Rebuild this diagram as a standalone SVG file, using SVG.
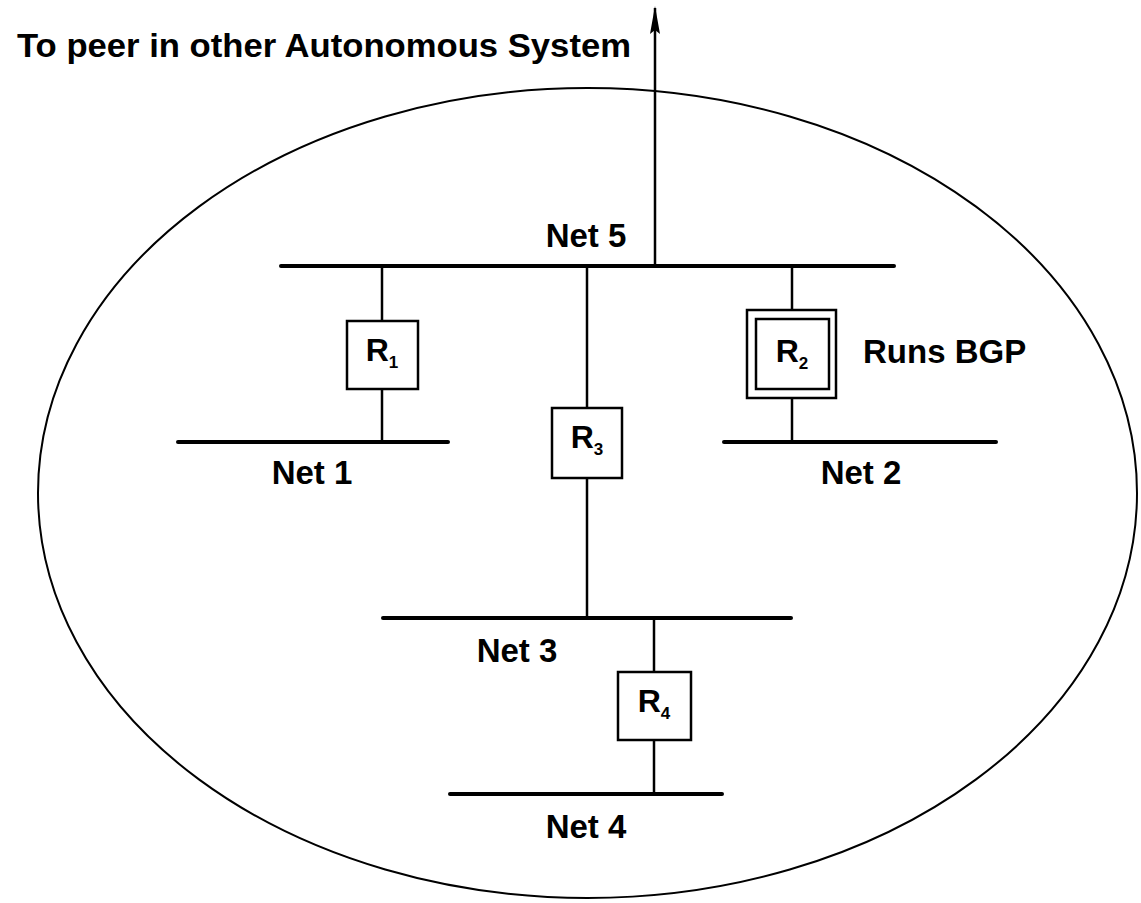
<svg xmlns="http://www.w3.org/2000/svg" width="1141" height="903" viewBox="0 0 1141 903">
  <style>
    .bus { stroke: #000; stroke-width: 4; stroke-linecap: round; }
    .link { stroke: #000; stroke-width: 2.5; fill: none; }
    .box { fill: #fff; stroke: #000; stroke-width: 2.5; }
    .lbl { font-family: "Liberation Sans", Arial, sans-serif; font-weight: bold; font-size: 33px; fill: #000; }
    .rt { font-family: "Liberation Sans", Arial, sans-serif; font-weight: bold; font-size: 32px; fill: #000; text-anchor: middle; }
    .sub { font-size: 17px; }
  </style>
  <defs>
    <marker id="arrowhead" viewBox="0 0 28 12" refX="26" refY="6" markerWidth="28" markerHeight="12" markerUnits="userSpaceOnUse" orient="auto">
      <path d="M28 6 L0 1 L4 6 L0 11 Z" fill="#000"/>
    </marker>
  </defs>
  <rect width="1141" height="903" fill="#fff"/>

  <!-- autonomous system boundary -->
  <g id="as-boundary">
    <ellipse cx="587.5" cy="493" rx="549.5" ry="405" fill="none" stroke="#000" stroke-width="2"/>
  </g>

  <g id="title">
    <text class="lbl" x="17" y="57" font-size="32" textLength="614" lengthAdjust="spacingAndGlyphs">To peer in other Autonomous System</text>
  </g>

  <!-- links between routers and networks -->
  <g id="connectors">
    <line class="link" x1="655" y1="266" x2="655" y2="8" marker-end="url(#arrowhead)"/>
    <line class="link" x1="382" y1="267" x2="382" y2="321"/>
    <line class="link" x1="382" y1="389" x2="382" y2="443"/>
    <line class="link" x1="792" y1="266" x2="792" y2="310"/>
    <line class="link" x1="792" y1="398" x2="792" y2="442"/>
    <line class="link" x1="587" y1="267" x2="587" y2="408"/>
    <line class="link" x1="587" y1="478" x2="587" y2="618"/>
    <line class="link" x1="654" y1="618" x2="654" y2="672"/>
    <line class="link" x1="654" y1="740" x2="654" y2="794"/>
  </g>

  <!-- networks -->
  <g id="net5">
    <line class="bus" x1="281" y1="266" x2="894" y2="266"/>
    <text class="lbl" x="586" y="247" text-anchor="middle">Net 5</text>
  </g>
  <g id="net1">
    <line class="bus" x1="178" y1="442" x2="448" y2="442"/>
    <text class="lbl" x="312" y="484" text-anchor="middle">Net 1</text>
  </g>
  <g id="net2">
    <line class="bus" x1="724" y1="442" x2="996" y2="442"/>
    <text class="lbl" x="861" y="484" text-anchor="middle">Net 2</text>
  </g>
  <g id="net3">
    <line class="bus" x1="383" y1="618" x2="791" y2="618"/>
    <text class="lbl" x="517" y="662" text-anchor="middle">Net 3</text>
  </g>
  <g id="net4">
    <line class="bus" x1="450" y1="794" x2="722" y2="794"/>
    <text class="lbl" x="586" y="838" text-anchor="middle">Net 4</text>
  </g>

  <!-- routers -->
  <g id="r1">
    <rect class="box" x="347" y="321" width="71" height="68"/>
    <text class="rt" x="382" y="361">R<tspan class="sub" dy="7">1</tspan></text>
  </g>
  <g id="r2">
    <rect class="box" x="747" y="310" width="89" height="88"/>
    <rect class="box" x="756" y="319" width="73" height="70"/>
    <text class="rt" x="792" y="362">R<tspan class="sub" dy="7">2</tspan></text>
    <text class="lbl" x="863" y="363" font-size="31">Runs BGP</text>
  </g>
  <g id="r3">
    <rect class="box" x="552" y="408" width="70" height="70"/>
    <text class="rt" x="587" y="448">R<tspan class="sub" dy="7">3</tspan></text>
  </g>
  <g id="r4">
    <rect class="box" x="618" y="672" width="73" height="68"/>
    <text class="rt" x="654" y="712">R<tspan class="sub" dy="7">4</tspan></text>
  </g>
</svg>
